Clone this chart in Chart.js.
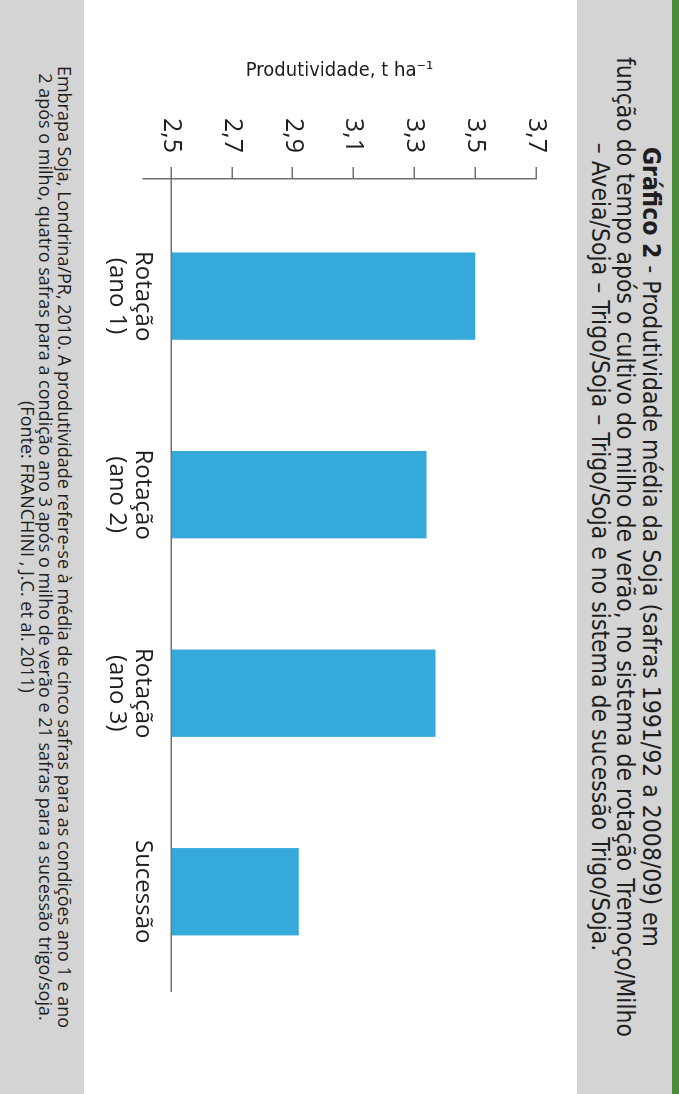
<!DOCTYPE html>
<html lang="pt">
<head>
<meta charset="utf-8">
<script src="https://cdn.jsdelivr.net/npm/chart.js@4"></script>
<style>
  html, body { margin: 0; padding: 0; background: #ffffff; }
  body { width: 679px; height: 1094px; overflow: hidden; position: relative; }
  /* a figura original é horizontal; gira 90° para caber na página */
  #figura {
    position: absolute; left: 0; top: 0;
    width: 1094px; height: 679px;
    transform-origin: 0 0;
    transform: translate(679px, 0) rotate(90deg);
    background: #ffffff;
  }
  #faixa { position: absolute; left: 0; top: 0; width: 1094px; height: 7px; background: #4a8a3a; }
  #cabecalho {
    position: absolute; left: 0; top: 7px; width: 1094px; height: 95px;
    background: #d4d4d4; text-align: center; color: #1e1e1e;
    font-family: "Liberation Sans Narrow", "DejaVu Sans Condensed", sans-serif;
    font-size: 24.5px; line-height: 25.5px; padding-top: 8px; box-sizing: border-box;
  }
  #grafico { position: absolute; left: 0; top: 102px; }
  #rodape {
    position: absolute; left: 0; top: 595px; width: 1094px; height: 84px;
    background: #d4d4d4; text-align: center; color: #1e1e1e;
    font-family: "Open Sans", sans-serif; font-size: 18px; line-height: 18.5px;
    padding-top: 10px; box-sizing: border-box;
  }
</style>
</head>
<body>
<div id="figura">
  <div id="faixa"></div>
  <div id="cabecalho">
    <b>Gráfico 2</b> - Produtividade média da Soja (safras 1991/92 a 2008/09) em<br>
    função do tempo após o cultivo do milho de verão, no sistema de rotação Tremoço/Milho<br>
    – Aveia/Soja – Trigo/Soja – Trigo/Soja e no sistema de sucessão Trigo/Soja.
  </div>
  <canvas id="grafico" width="1094" height="493"></canvas>
  <div id="rodape">
    Embrapa Soja, Londrina/PR, 2010. A produtividade refere-se à média de cinco safras para as condições ano 1 e ano<br>
    2 após o milho, quatro safras para a condição ano 3 após o milho de verão e 21 safras para a sucessão trigo/soja.<br>
    (Fonte: FRANCHINI , J.C. et al. 2011)
  </div>
</div>

<script>
// dados
const categorias = [['Rotação', '(ano 1)'], ['Rotação', '(ano 2)'], ['Rotação', '(ano 3)'], ['Sucessão']];
const produtividade = [3.50, 3.34, 3.37, 2.92];
const ticksY = [2.5, 2.7, 2.9, 3.1, 3.3, 3.5, 3.7];
const tituloY = 'Produtividade, t ha⁻¹';

const corBarra = '#35a9da';
const corEixo = '#707070';

// eixo x numérico (0..3) para deixar o espaço antes da primeira barra
const pontos = produtividade.map((v, i) => ({ x: i, y: v }));

function criarGrafico() {
    const ctx = document.getElementById('grafico').getContext('2d');

    new Chart(ctx, {
        type: 'bar',
        data: {
            datasets: [{
                data: pontos,
                backgroundColor: corBarra,
                borderWidth: 0,
                base: ticksY[0],
                barPercentage: 0.44,
                categoryPercentage: 1
            }]
        },
        options: {
            responsive: false,
            animation: false,
            devicePixelRatio: 1,
            layout: { padding: { left: 50, right: 103, top: 41, bottom: 59 } },
            plugins: {
                legend: { display: false },
                tooltip: { enabled: false }
            },
            scales: {
                x: {
                    type: 'linear',
                    offset: false,
                    bounds: 'data',
                    position: { y: ticksY[0] },
                    min: -0.59,
                    max: 3.5,
                    afterBuildTicks: function(scale) {
                        scale.ticks = categorias.map((c, i) => ({ value: i }));
                    },
                    grid: { display: false, drawTicks: false, offset: false },
                    border: { display: true, color: corEixo, width: 1.5 },
                    ticks: {
                        autoSkip: false,
                        maxRotation: 0,
                        padding: 15,
                        color: '#1e1e1e',
                        font: { family: "'Open Sans', sans-serif", size: 24, lineHeight: 1.08 },
                        callback: function(value) {
                            return categorias[value] || '';
                        }
                    }
                },
                y: {
                    min: 2.408,
                    max: 3.7,
                    afterBuildTicks: function(scale) {
                        scale.ticks = ticksY.map(v => ({ value: v }));
                    },
                    afterFit: function(scale) {
                        scale.width = 129;
                    },
                    grid: {
                        drawOnChartArea: false,
                        drawTicks: true,
                        tickLength: 12,
                        color: corEixo,
                        lineWidth: 1.5
                    },
                    border: { display: true, color: corEixo, width: 1.5 },
                    ticks: {
                        padding: 14,
                        color: '#1e1e1e',
                        font: { family: "'Open Sans', sans-serif", size: 25 },
                        callback: function(value) {
                            return value.toFixed(1).replace('.', ',');
                        }
                    },
                    title: {
                        display: true,
                        text: tituloY,
                        color: '#1e1e1e',
                        padding: { top: 9, bottom: 0 },
                        font: { family: "'Liberation Sans Narrow', 'DejaVu Sans Condensed', sans-serif", size: 20 }
                    }
                }
            }
        }
    });
}

document.addEventListener('DOMContentLoaded', function() {
    criarGrafico();
});
</script>
</body>
</html>
